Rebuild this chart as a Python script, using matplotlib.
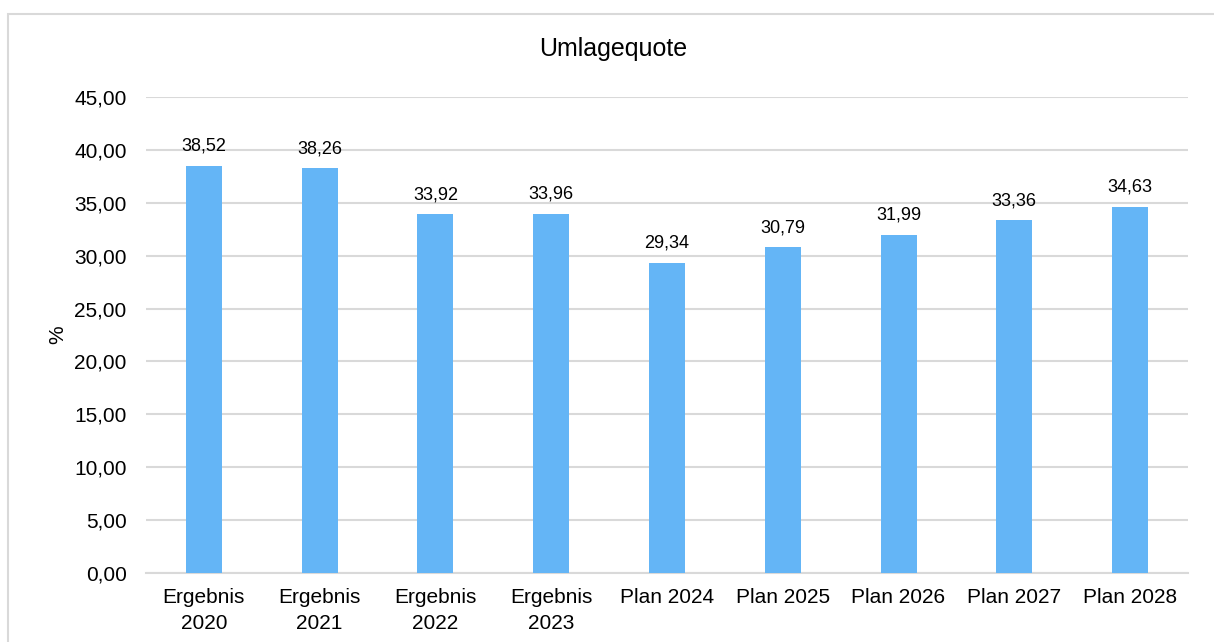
import matplotlib.pyplot as plt
from matplotlib.patches import Rectangle
from matplotlib.ticker import FuncFormatter

# Data
categories = ["Ergebnis\n2020", "Ergebnis\n2021", "Ergebnis\n2022", "Ergebnis\n2023",
              "Plan 2024", "Plan 2025", "Plan 2026", "Plan 2027", "Plan 2028"]
values = [38.52, 38.26, 33.92, 33.96, 29.34, 30.79, 31.99, 33.36, 34.63]

plt.rcParams['font.family'] = ['Liberation Sans', 'DejaVu Sans']

fig = plt.figure(figsize=(12.14, 6.42), dpi=100)
ax = fig.add_axes([146 / 1214, 1 - 573 / 642, (1188 - 146) / 1214, (573 - 97) / 642])

# outer chart frame
fig.patches.append(Rectangle((8 / 1214, -0.1), 1.2, 1 - 14 / 642 + 0.1,
                             transform=fig.transFigure, fill=False,
                             edgecolor="#D9D9D9", linewidth=1.5))

x = range(len(categories))
bars = ax.bar(x, values, width=0.31, color="#64B5F6", zorder=3)

for b, v in zip(bars, values):
    ax.annotate(f"{v:.2f}".replace(".", ","), (b.get_x() + b.get_width() / 2, v),
                xytext=(0, 8), textcoords="offset points", ha="center", va="bottom",
                fontsize=13)

ax.set_xlim(-0.5, len(categories) - 0.5)
ax.set_ylim(0, 45)
ax.set_yticks(range(0, 46, 5))
ax.yaxis.set_major_formatter(FuncFormatter(lambda v, p: f"{v:.2f}".replace(".", ",")))
ax.set_xticks(list(x))
ax.set_xticklabels(categories, fontsize=15, linespacing=1.45)
ax.tick_params(axis="y", length=0, pad=14, labelsize=15)
ax.tick_params(axis="x", length=0, pad=11)
ax.grid(axis="y", color="#D9D9D9", linewidth=1.5, zorder=0)
for s in ["top", "right", "left"]:
    ax.spines[s].set_visible(False)
ax.spines["bottom"].set_color("#D9D9D9")
ax.spines["bottom"].set_linewidth(1.5)

ax.set_ylabel("%", fontsize=15, labelpad=5)
fig.text(0.505, 1 - 49 / 642, "Umlagequote", ha="center", va="center", fontsize=18)

fig.savefig("out.png", dpi=100)
